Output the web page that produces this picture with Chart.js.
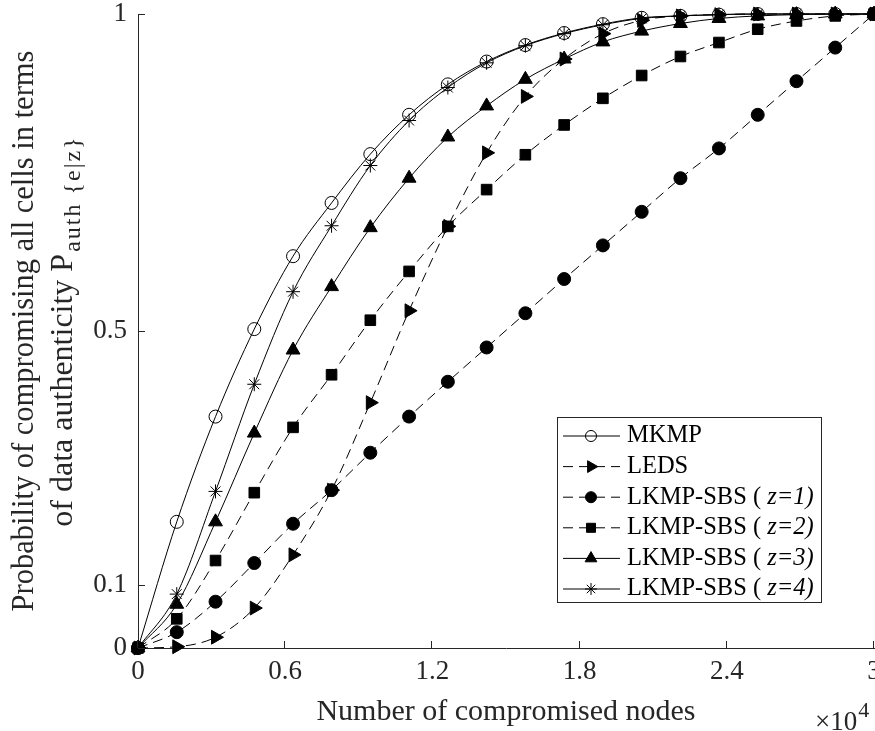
<!DOCTYPE html>
<html>
<head>
<meta charset="utf-8">
<script src="https://cdn.jsdelivr.net/npm/chart.js@4/dist/chart.umd.min.js"></script>
<style>
html,body{margin:0;padding:0;background:#fff;overflow:hidden;}
#c{display:block;}
</style>
</head>
<body>
<canvas id="c" width="875" height="731"></canvas>
<script>
// x: number of compromised nodes (x 10^4)
const nodes = [0, 0.158, 0.316, 0.474, 0.632, 0.789, 0.947, 1.105, 1.263, 1.421, 1.579, 1.737, 1.895, 2.053, 2.211, 2.368, 2.526, 2.684, 2.842, 3.0];
const mkmp   = [0, 0.199, 0.365, 0.503, 0.618, 0.702, 0.779, 0.841, 0.889, 0.925, 0.951, 0.970, 0.984, 0.994, 0.997, 0.999, 1, 1, 1, 1];
const leds   = [0, 0.002, 0.017, 0.063, 0.147, 0.249, 0.387, 0.532, 0.665, 0.781, 0.870, 0.929, 0.969, 0.990, 0.997, 0.999, 1, 1, 1, 1];
const lkmpZ1 = [0, 0.025, 0.073, 0.134, 0.196, 0.249, 0.308, 0.365, 0.420, 0.474, 0.528, 0.582, 0.635, 0.688, 0.741, 0.788, 0.841, 0.894, 0.947, 1.0];
const lkmpZ2 = [0, 0.046, 0.138, 0.245, 0.348, 0.431, 0.517, 0.594, 0.665, 0.723, 0.778, 0.825, 0.867, 0.903, 0.933, 0.955, 0.976, 0.989, 0.997, 1.0];
const lkmpZ3 = [0, 0.069, 0.199, 0.339, 0.470, 0.570, 0.663, 0.741, 0.806, 0.855, 0.897, 0.929, 0.956, 0.973, 0.985, 0.993, 0.997, 0.999, 1, 1];
const lkmpZ4 = [0, 0.085, 0.247, 0.416, 0.562, 0.666, 0.761, 0.832, 0.884, 0.923, 0.950, 0.969, 0.983, 0.993, 0.997, 0.999, 1, 1, 1, 1];
const seriesNames = ['MKMP', 'LEDS', 'LKMP-SBS ( z=1)', 'LKMP-SBS ( z=2)', 'LKMP-SBS ( z=3)', 'LKMP-SBS ( z=4)'];
const xTicks = [0, 0.6, 1.2, 1.8, 2.4, 3];
const yTicks = [0, 0.1, 0.5, 1];
const xTitle = 'Number of compromised nodes';
const xExponent = ['\u00d710', '4'];
const yTitleLine1 = 'Probability of compromising all cells in terms';
const yTitleLine2 = ['of data authenticity P', 'auth {e|z}'];

const FONT = "'Liberation Serif','Times New Roman',serif";
const AXIS = '#262626';
const DASH = [10, 6];

const styles = [
  {ps: 'circle',   r: 6.5, rot: 0,  fill: 'rgba(0,0,0,0)', dash: []},
  {ps: 'triangle', r: 8,   rot: 90, fill: '#000', dash: DASH},
  {ps: 'circle',   r: 6.5, rot: 0,  fill: '#000', dash: DASH},
  {ps: 'rect',     r: 7.5, rot: 0,  fill: '#000', dash: DASH},
  {ps: 'triangle', r: 8,   rot: 0,  fill: '#000', dash: []},
  {ps: 'star',     r: 7,   rot: 0,  fill: 'rgba(0,0,0,0)', dash: []}
];
const seriesValues = [mkmp, leds, lkmpZ1, lkmpZ2, lkmpZ3, lkmpZ4];

const datasets = seriesValues.map((vals, i) => ({
  label: seriesNames[i],
  data: nodes.map((x, k) => ({x: x, y: vals[k]})),
  borderColor: '#000',
  borderWidth: 1,
  borderDash: styles[i].dash,
  pointStyle: styles[i].ps,
  pointRadius: styles[i].r,
  pointRotation: styles[i].rot,
  pointBackgroundColor: styles[i].fill,
  pointBorderColor: '#000',
  pointBorderWidth: 1,
  fill: false,
  cubicInterpolationMode: 'monotone',
  clip: false,
  order: seriesValues.length - i
}));

const decorPlugin = {
  id: 'decor',
  afterLayout(chart) {
    // let the plot run to the right edge of the figure (last tick label is cut, as in the original)
    const area = chart.chartArea;
    const xs = chart.scales.x;
    const R = chart.width - 1;
    area.right = R; area.width = R - area.left;
    xs.right = R; xs.width = R - xs.left;
    xs.configure();
  },
  afterDraw(chart) {
    const ctx = chart.ctx;
    const a = chart.chartArea;
    const xs = chart.scales.x, ys = chart.scales.y;
    ctx.save();
    // inward tick marks
    ctx.strokeStyle = AXIS; ctx.lineWidth = 1;
    ctx.beginPath();
    xTicks.forEach(v => { const p = Math.round(xs.getPixelForValue(v)) - 0.5; ctx.moveTo(p, a.bottom); ctx.lineTo(p, a.bottom - 7); });
    yTicks.forEach(v => { const p = Math.round(ys.getPixelForValue(v)) + 0.5; ctx.moveTo(a.left, p); ctx.lineTo(a.left + 7, p); });
    ctx.stroke();
    // x exponent
    ctx.fillStyle = AXIS;
    ctx.textBaseline = 'alphabetic'; ctx.textAlign = 'left';
    ctx.font = '27px ' + FONT;
    ctx.fillText(xExponent[0], 815, 730);
    const w0 = ctx.measureText(xExponent[0]).width;
    ctx.font = '22px ' + FONT;
    ctx.fillText(xExponent[1], 815 + w0 + 1, 717);
    // y title
    const cy = (a.top + a.bottom) / 2;
    ctx.save();
    ctx.translate(33, cy); ctx.rotate(-Math.PI / 2);
    ctx.font = '30.5px ' + FONT; ctx.textAlign = 'center';
    ctx.fillText(yTitleLine1, 0, 0);
    ctx.restore();
    ctx.save();
    ctx.translate(72, cy); ctx.rotate(-Math.PI / 2);
    ctx.font = '32px ' + FONT; const m1 = ctx.measureText(yTitleLine2[0]).width;
    ctx.font = '24px ' + FONT;
    ctx.letterSpacing = '2px';
    const m2 = ctx.measureText(yTitleLine2[1]).width;
    ctx.letterSpacing = '0px';
    const start = -(m1 + m2 + 2) / 2;
    ctx.textAlign = 'left';
    ctx.font = '32px ' + FONT; ctx.fillText(yTitleLine2[0], start, 0);
    ctx.font = '24px ' + FONT; ctx.letterSpacing = '2px';
    ctx.fillText(yTitleLine2[1], start + m1 + 2, 8);
    ctx.letterSpacing = '0px';
    ctx.restore();
    // legend
    const bx = 557.5, by = 417.5, bw = 264, bh = 185;
    ctx.fillStyle = '#fff'; ctx.fillRect(bx, by, bw, bh);
    ctx.strokeStyle = AXIS; ctx.strokeRect(bx, by, bw, bh);
    chart.data.datasets.forEach((ds, i) => {
      const y = 436 + i * 30.6;
      ctx.strokeStyle = '#000';
      ctx.setLineDash(ds.borderDash || []);
      ctx.beginPath(); ctx.moveTo(563, y); ctx.lineTo(620, y); ctx.stroke();
      ctx.setLineDash([]);
      ctx.fillStyle = ds.pointBackgroundColor;
      ctx.strokeStyle = '#000'; ctx.lineWidth = 1;
      Chart.helpers.drawPoint(ctx, {pointStyle: ds.pointStyle, radius: ds.pointRadius * 0.85, rotation: ds.pointRotation || 0, borderWidth: 1}, 591, y);
      ctx.fillStyle = '#000';
      ctx.textAlign = 'left'; ctx.textBaseline = 'middle';
      const label = ds.label;
      const cut = label.indexOf('( ');
      if (cut >= 0) {
        const pre = label.slice(0, cut + 2), suf = label.slice(cut + 2);
        ctx.font = '24.5px ' + FONT; ctx.fillText(pre, 627, y);
        const pw = ctx.measureText(pre).width;
        ctx.font = 'italic 24.5px ' + FONT; ctx.fillText(suf, 627 + pw, y);
      } else {
        ctx.font = '24.5px ' + FONT; ctx.fillText(label, 627, y);
      }
    });
    ctx.restore();
  }
};

new Chart(document.getElementById('c'), {
  type: 'line',
  data: {datasets: datasets},
  options: {
    responsive: false,
    animation: false,
    layout: {padding: {top: 14, right: 1, bottom: 0, left: 0}},
    plugins: {legend: {display: false}, tooltip: {enabled: false}},
    scales: {
      x: {
        type: 'linear', min: 0, max: 3,
        afterBuildTicks: s => { s.ticks = xTicks.map(v => ({value: v})); },
        afterFit: s => { s.height = 83; },
        grid: {display: false, drawTicks: false},
        border: {display: true, color: AXIS, width: 1},
        ticks: {padding: 8, color: AXIS, font: {family: FONT, size: 27}, maxRotation: 0, callback: v => String(v)},
        title: {display: true, text: xTitle, color: AXIS, font: {family: FONT, size: 30, lineHeight: 0.8}, padding: {top: 0, bottom: 7}}
      },
      y: {
        type: 'linear', min: 0, max: 1,
        afterBuildTicks: s => { s.ticks = yTicks.map(v => ({value: v})); },
        afterFit: s => { s.width = 138; s.paddingTop = 0; s.paddingBottom = 0; },
        grid: {display: false, drawTicks: false},
        border: {display: true, color: AXIS, width: 1},
        ticks: {padding: 11, color: AXIS, font: {family: FONT, size: 27}, callback: v => String(v)}
      }
    }
  },
  plugins: [decorPlugin]
});
</script>
</body>
</html>
